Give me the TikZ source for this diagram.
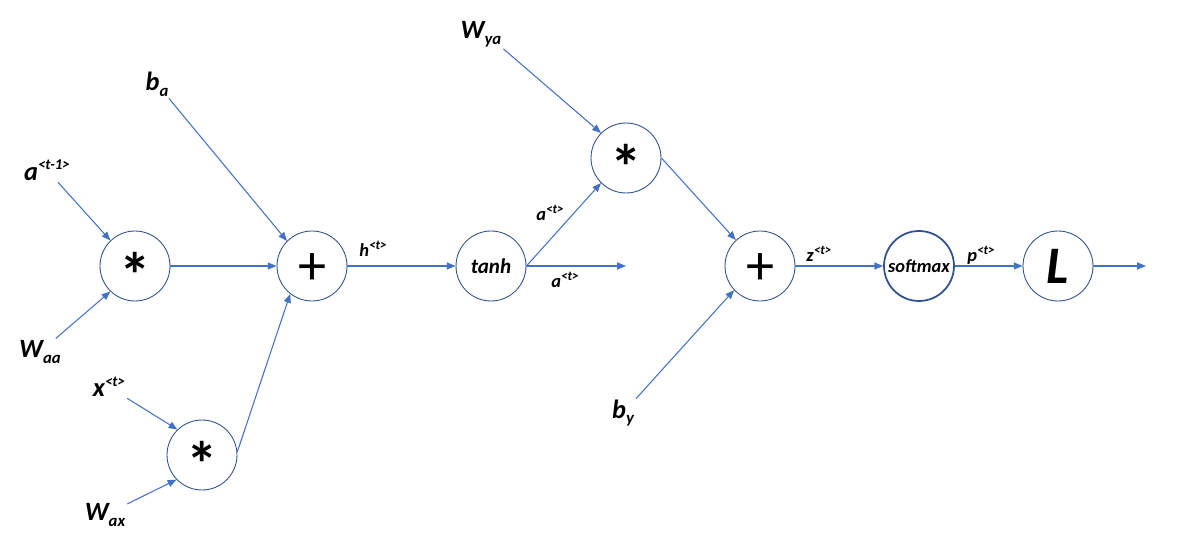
\documentclass[tikz,border=0pt]{standalone}
\usepackage{fontspec}
\setmainfont{Carlito}
\usetikzlibrary{arrows.meta}
\definecolor{arrblue}{HTML}{4472C4}
\definecolor{ringblue}{HTML}{2F528F}
\newcommand{\lsub}[1]{\raisebox{-0.22em}{\fontsize{9.5}{10}\selectfont #1}}
\newcommand{\lsup}[1]{\raisebox{0.4em}{\fontsize{8.5}{10}\selectfont #1}}
\newcommand{\ssup}[1]{\raisebox{0.4em}{\fontsize{7.5}{8}\selectfont #1}}
\newcommand{\opsym}[2]{\raisebox{#2}[0pt][0pt]{#1}}

\begin{document}
\begin{tikzpicture}[x=0.02cm,y=-0.02cm,
	op/.style={circle,draw=ringblue,line width=0.5pt,minimum size=1.4cm,inner sep=0pt,font=\bfseries},
	var/.style={inner sep=1pt,font=\fontsize{15}{17}\selectfont\bfseries\itshape},
	tag/.style={inner sep=1pt,font=\fontsize{10.5}{12}\selectfont\bfseries\itshape},
	arr/.style={draw=arrblue,line width=0.6pt,-{Triangle[length=5pt,width=4pt]}}]
	\useasboundingbox (0,0) rectangle (1200,550);
	% operation circles
	\node [op] (mul1) at (135,266) {\fontsize{36}{38}\selectfont\opsym{*}{-0.5em}};
	\node [op,font=\mdseries] (add1) at (312,266) {\fontsize{32}{34}\selectfont\opsym{+}{-0.33em}};
	\node [op] (mul2) at (202,455) {\fontsize{36}{38}\selectfont\opsym{*}{-0.5em}};
	\node [op,font=\fontsize{12}{14}\selectfont\bfseries\itshape] (tanh) at (491,266) {tanh};
	\node [op] (mul3) at (626,158) {\fontsize{36}{38}\selectfont\opsym{*}{-0.5em}};
	\node [op,font=\mdseries] (add2) at (760,266) {\fontsize{32}{34}\selectfont\opsym{+}{-0.33em}};
	\node [op,line width=1pt,font=\fontsize{10.5}{12}\selectfont\bfseries\itshape] (soft) at (919,266) {softmax};
	\node [op,font=\fontsize{30}{32}\selectfont\bfseries\itshape] (loss) at (1058,266) {L};
	% inputs
	\node [var] (ba) at (157,84) {b\lsub{a}};
	\node [var] (aprev) at (47,170) {a\lsup{<t-1>}};
	\node [var] (waa) at (40,352) {W\lsub{aa}};
	\node [var] (xt) at (109,387) {x\lsup{<t>}};
	\node [var] (wax) at (105,515) {W\lsub{ax}};
	\node [var] (wya) at (481,34) {W\lsub{ya}};
	\node [var] (by) at (623,413) {b\lsub{y}};
	% signal names
	\node [tag] (ht) at (373,249) {h\ssup{<t>}};
	\node [tag] (at1) at (550,213) {a\ssup{<t>}};
	\node [tag] (at2) at (565,280) {a\ssup{<t>}};
	\node [tag] (zt) at (819,254) {z\ssup{<t>}};
	\node [tag] (pt) at (981,255) {p\ssup{<t>}};
	\coordinate (aout) at (626,266);
	\coordinate (lout) at (1146,266);
	% connectors
	\draw [arr] (aprev) -- (mul1.134);
	\draw [arr] (waa) -- (mul1.226);
	\draw [arr] (xt) -- (mul2.134);
	\draw [arr] (wax) -- (mul2.224);
	\draw [arr] (ba) -- (add1.135);
	\draw [arr] (mul1) -- (add1);
	\draw [arr] (mul2.5) -- (add1.232);
	\draw [arr] (add1) -- (tanh);
	\draw [arr] (tanh.east) -- (mul3.225);
	\draw [arr] (tanh.east) -- (aout);
	\draw [arr] (wya.south east) -- (mul3.135);
	\draw [arr] (mul3.east) -- (add2.133);
	\draw [arr] (by) -- (add2.223);
	\draw [arr] (add2) -- (soft);
	\draw [arr] (soft) -- (loss);
	\draw [arr] (loss) -- (lout);
\end{tikzpicture}
\end{document}
